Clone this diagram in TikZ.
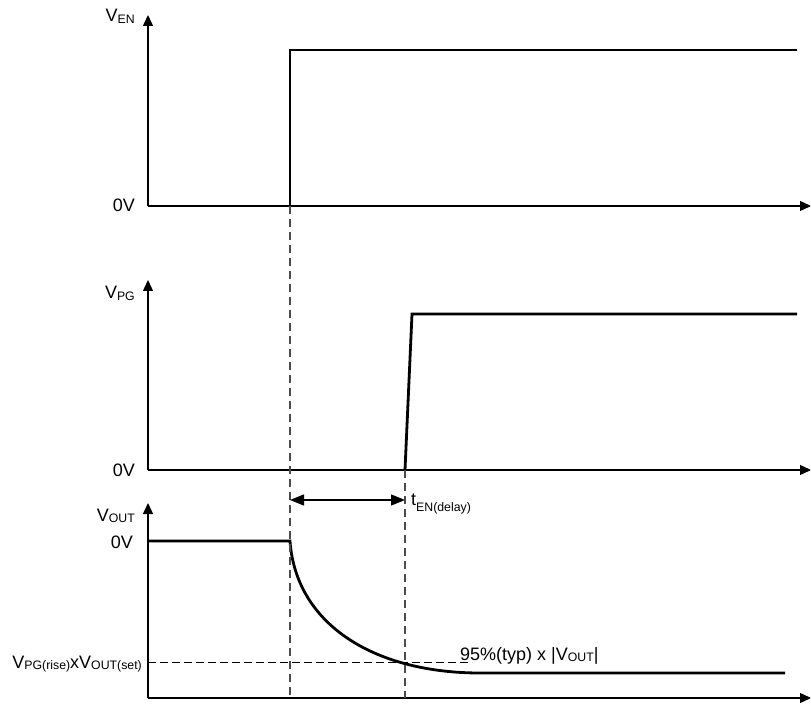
\documentclass[tikz,border=0pt]{standalone}
\usepackage{fontspec}
\setmainfont{Liberation Sans}
\usetikzlibrary{arrows.meta}
\newcommand{\sbs}[2][1.5pt]{\raisebox{-#1}{\fontsize{12.3}{13}\selectfont #2}}
\tikzset{axis/.style={line width=1.4pt,-{Triangle[width=10pt,length=11pt]}},
  signal/.style={line width=2.8pt},
  guide/.style={dashed,dash pattern=on 8pt off 5pt,line width=1.2pt,black!70},
  level/.style={dashed,dash pattern=on 8pt off 4pt,line width=1pt},
  lbl/.style={font=\fontsize{18}{20}\selectfont,inner sep=0pt}}

\begin{document}
\begin{tikzpicture}[x=1pt,y=-1pt]
            \useasboundingbox (0,0) rectangle (811,708);
            % EN
            \draw[axis] (148,206) -- (148,15);
            \draw[axis] (148,206) -- (811,206);
            \node[lbl,anchor=base east] (en) at (135,22) {V\sbs{EN}};
            \node[lbl,anchor=base east] (z1) at (135,212) {0V};
            \draw[signal] (148,206) -- (290,206) -- (290,50) -- (797,50);
            % PG
            \draw[axis] (148,470) -- (148,280);
            \draw[axis] (148,470) -- (811,470);
            \node[lbl,anchor=base east] (pg) at (135,299) {V\sbs{PG}};
            \node[lbl,anchor=base east] (z2) at (135,476) {0V};
            \draw[signal] (148,470) -- (290,470);
            \draw[signal] (405,470) -- (412,314) -- (797,314);
            % OUT
            \draw[axis] (148,698) -- (148,503);
            \draw[axis] (148,698) -- (811,698);
            \node[lbl,anchor=base east] (out) at (135,521) {V\sbs{OUT}};
            \node[lbl,anchor=base east] (z3) at (133,548) {0V};
            \draw[signal] (148,541) -- (290,541) .. controls (296,625) and (375,673) .. (480,673) -- (785,673);
            % levels
            \draw[level] (148,662) -- (472,662);
            \node[lbl,anchor=base east] (set) at (142,668) {V\sbs{PG(rise)}xV\sbs{OUT(set)}};
            \node[lbl,anchor=base west] (typ) at (460,660) {95\%(typ) x |V\sbs{OUT}|};
            % delay
            \draw[guide] (290,206) -- (290,698);
            \draw[guide] (405,470) -- (405,698);
            \draw[line width=1.3pt,{Triangle[width=11pt,length=14pt]}-{Triangle[width=11pt,length=14pt]}] (290,500) -- (405,500);
            \node[lbl,anchor=base west] (td) at (411,505) {t\sbs[6pt]{EN(delay)}};
        \end{tikzpicture}
\end{document}
